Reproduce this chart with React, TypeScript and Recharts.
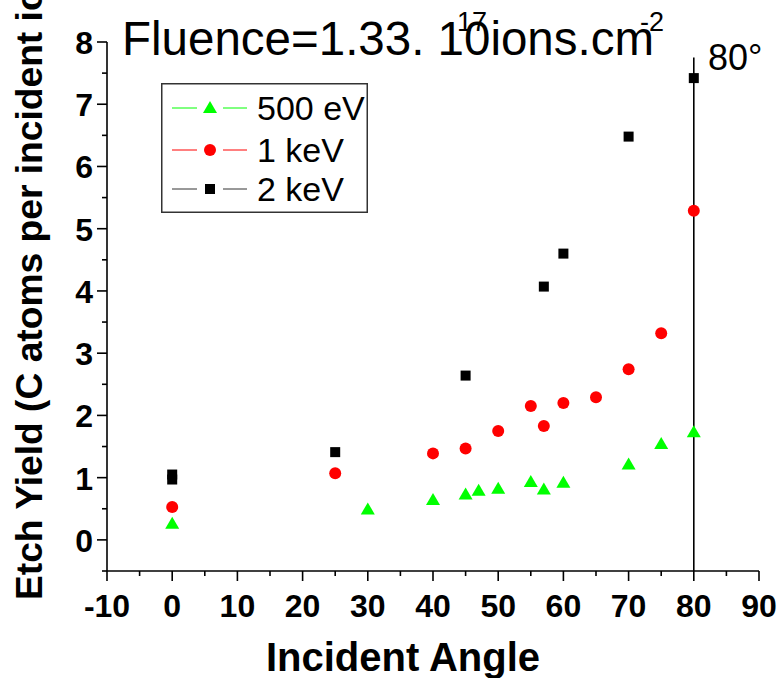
import React from 'react';
import { ScatterChart, Scatter, XAxis, YAxis, ReferenceLine, Legend, Customized } from 'recharts';

const angles500 = [0, 30, 40, 45, 47, 50, 55, 57, 60, 70, 75, 80];
const yield500 = [0.26, 0.49, 0.64, 0.73, 0.79, 0.82, 0.93, 0.81, 0.92, 1.21, 1.54, 1.73];
const angles1k = [0, 25, 40, 45, 50, 55, 57, 60, 65, 70, 75, 80];
const yield1k = [0.53, 1.07, 1.39, 1.47, 1.75, 2.15, 1.83, 2.2, 2.29, 2.74, 3.32, 5.29];
const angles2k = [0, 0, 25, 45, 57, 60, 70, 80];
const yield2k = [1.05, 0.97, 1.41, 2.64, 4.07, 4.6, 6.48, 7.42];

const seriesNames = ['500 eV', '1 keV', '2 keV'];
const xTicks = [-10, -5, 0, 5, 10, 15, 20, 25, 30, 35, 40, 45, 50, 55, 60, 65, 70, 75, 80, 85, 90];
const yTicks = [-0.5, 0, 0.5, 1, 1.5, 2, 2.5, 3, 3.5, 4, 4.5, 5, 5.5, 6, 6.5, 7, 7.5, 8];
const xTitle = 'Incident Angle';
const yTitle = 'Etch Yield (C atoms per incident ion)';
const markerAngle = 80;
const markerLabel = '80°';

const FONT = '"Liberation Sans", Arial, Helvetica, sans-serif';
const GREEN = '#00ff00';
const RED = '#ff0000';
const BLACK = '#000000';

const data500 = angles500.map((a, i) => ({ x: a, y: yield500[i] }));
const data1k = angles1k.map((a, i) => ({ x: a, y: yield1k[i] }));
const data2k = angles2k.map((a, i) => ({ x: a, y: yield2k[i] }));

const Triangle = (props: any) => {
  const { cx, cy } = props;
  if (cx == null || cy == null) return null;
  return <polygon points={`${cx},${cy - 7} ${cx - 7},${cy + 5} ${cx + 7},${cy + 5}`} fill={GREEN} />;
};
const Dot = (props: any) => {
  const { cx, cy } = props;
  if (cx == null || cy == null) return null;
  return <circle cx={cx} cy={cy} r={6} fill={RED} />;
};
const Square = (props: any) => {
  const { cx, cy } = props;
  if (cx == null || cy == null) return null;
  return <rect x={cx - 5} y={cy - 5} width={10} height={10} fill={BLACK} />;
};

const XTick = (props: any) => {
  const { x, y, payload } = props;
  const v = payload.value;
  const major = v % 10 === 0;
  return (
    <g>
      <line x1={x} y1={y} x2={x} y2={y + (major ? 10 : 5)} stroke="#000" strokeWidth={1.6} />
      {major && (
        <text x={x} y={y + 46} textAnchor="middle" fontSize={32} fontWeight="bold" fontFamily={FONT} fill="#000">
          {v}
        </text>
      )}
    </g>
  );
};

const YTick = (props: any) => {
  const { x, y, payload } = props;
  const v = payload.value;
  const major = Number.isInteger(v);
  return (
    <g>
      <line x1={x} y1={y} x2={x - (major ? 10 : 5)} y2={y} stroke="#000" strokeWidth={1.6} />
      {major && (
        <text x={x - 14} y={y + 12} textAnchor="end" fontSize={32} fontWeight="bold" fontFamily={FONT} fill="#000">
          {v}
        </text>
      )}
    </g>
  );
};

const LegendBox = () => {
  const rows = [
    { name: seriesNames[0], color: GREEN, marker: 'tri' },
    { name: seriesNames[1], color: RED, marker: 'dot' },
    { name: seriesNames[2], color: '#333', marker: 'sq' },
  ];
  const rowY = [25, 67, 106];
  return (
    <svg width={207} height={130} style={{ display: 'block' }}>
      <rect x={0.75} y={0.75} width={205.5} height={128.5} fill="#fff" stroke="#333" strokeWidth={1.5} />
      {rows.map((r, i) => {
        const cy = rowY[i];
        return (
          <g key={r.name}>
            <line x1={11} y1={cy} x2={36} y2={cy} stroke={r.color} strokeWidth={1} />
            <line x1={62} y1={cy} x2={86} y2={cy} stroke={r.color} strokeWidth={1} />
            {r.marker === 'tri' && <Triangle cx={49} cy={cy} />}
            {r.marker === 'dot' && <Dot cx={49} cy={cy} />}
            {r.marker === 'sq' && <rect x={44} y={cy - 5} width={10} height={10} fill={BLACK} />}
            <text x={96} y={cy + 12} fontSize={34} fontFamily={FONT} fill="#000">
              {r.name}
            </text>
          </g>
        );
      })}
    </svg>
  );
};

const Decorations = () => (
  <g>
    <text x={122} y={55} fontSize={47.5} fontFamily={FONT} fill="#000">
      Fluence=1.33. 10ions.cm
    </text>
    <text x={457} y={31} fontSize={27} fontFamily={FONT} fill="#000">
      17
    </text>
    <text x={640} y={31} fontSize={27} fontFamily={FONT} fill="#000">
      -2
    </text>
    <text x={708} y={70} fontSize={36} fontFamily={FONT} fill="#000">
      {markerLabel}
    </text>
    <text
      transform="translate(42,600) rotate(-90)"
      x={0}
      y={0}
      fontSize={37.2}
      fontWeight="bold"
      fontFamily={FONT}
      fill="#000"
    >
      {yTitle}
    </text>
    <text x={403} y={671} textAnchor="middle" fontSize={40} fontWeight="bold" fontFamily={FONT} fill="#000">
      {xTitle}
    </text>
  </g>
);

export default function App() {
  return (
    <div style={{ position: 'absolute', left: 0, top: 0, width: 780, height: 678, background: '#fff' }}>
      <ScatterChart width={780} height={678} margin={{ top: 42, right: 21, bottom: 0, left: 0 }}>
        <XAxis
          type="number"
          dataKey="x"
          domain={[-10, 90]}
          ticks={xTicks}
          interval={0}
          height={107}
          tickSize={0}
          tickMargin={0}
          tickLine={false}
          tick={<XTick />}
          axisLine={{ stroke: '#000', strokeWidth: 1.6 }}
          allowDataOverflow
        />
        <YAxis
          type="number"
          dataKey="y"
          domain={[-0.5, 8]}
          ticks={yTicks}
          interval={0}
          width={107}
          tickSize={0}
          tickMargin={0}
          tickLine={false}
          tick={<YTick />}
          axisLine={{ stroke: '#000', strokeWidth: 1.6 }}
          allowDataOverflow
        />
        <Scatter name={seriesNames[0]} data={data500} shape={<Triangle />} isAnimationActive={false} />
        <Scatter name={seriesNames[1]} data={data1k} shape={<Dot />} isAnimationActive={false} />
        <Scatter name={seriesNames[2]} data={data2k} shape={<Square />} isAnimationActive={false} />
        <ReferenceLine
          segment={[
            { x: markerAngle, y: 7.75 },
            { x: markerAngle, y: -0.5 },
          ]}
          stroke="#000"
          strokeWidth={1.6}
        />
        <Legend
          layout="vertical"
          align="center"
          verticalAlign="middle"
          content={() => <LegendBox />}
          wrapperStyle={{ left: 161, top: 83, width: 207, height: 130 }}
        />
        <Customized component={<Decorations />} />
      </ScatterChart>
    </div>
  );
}
